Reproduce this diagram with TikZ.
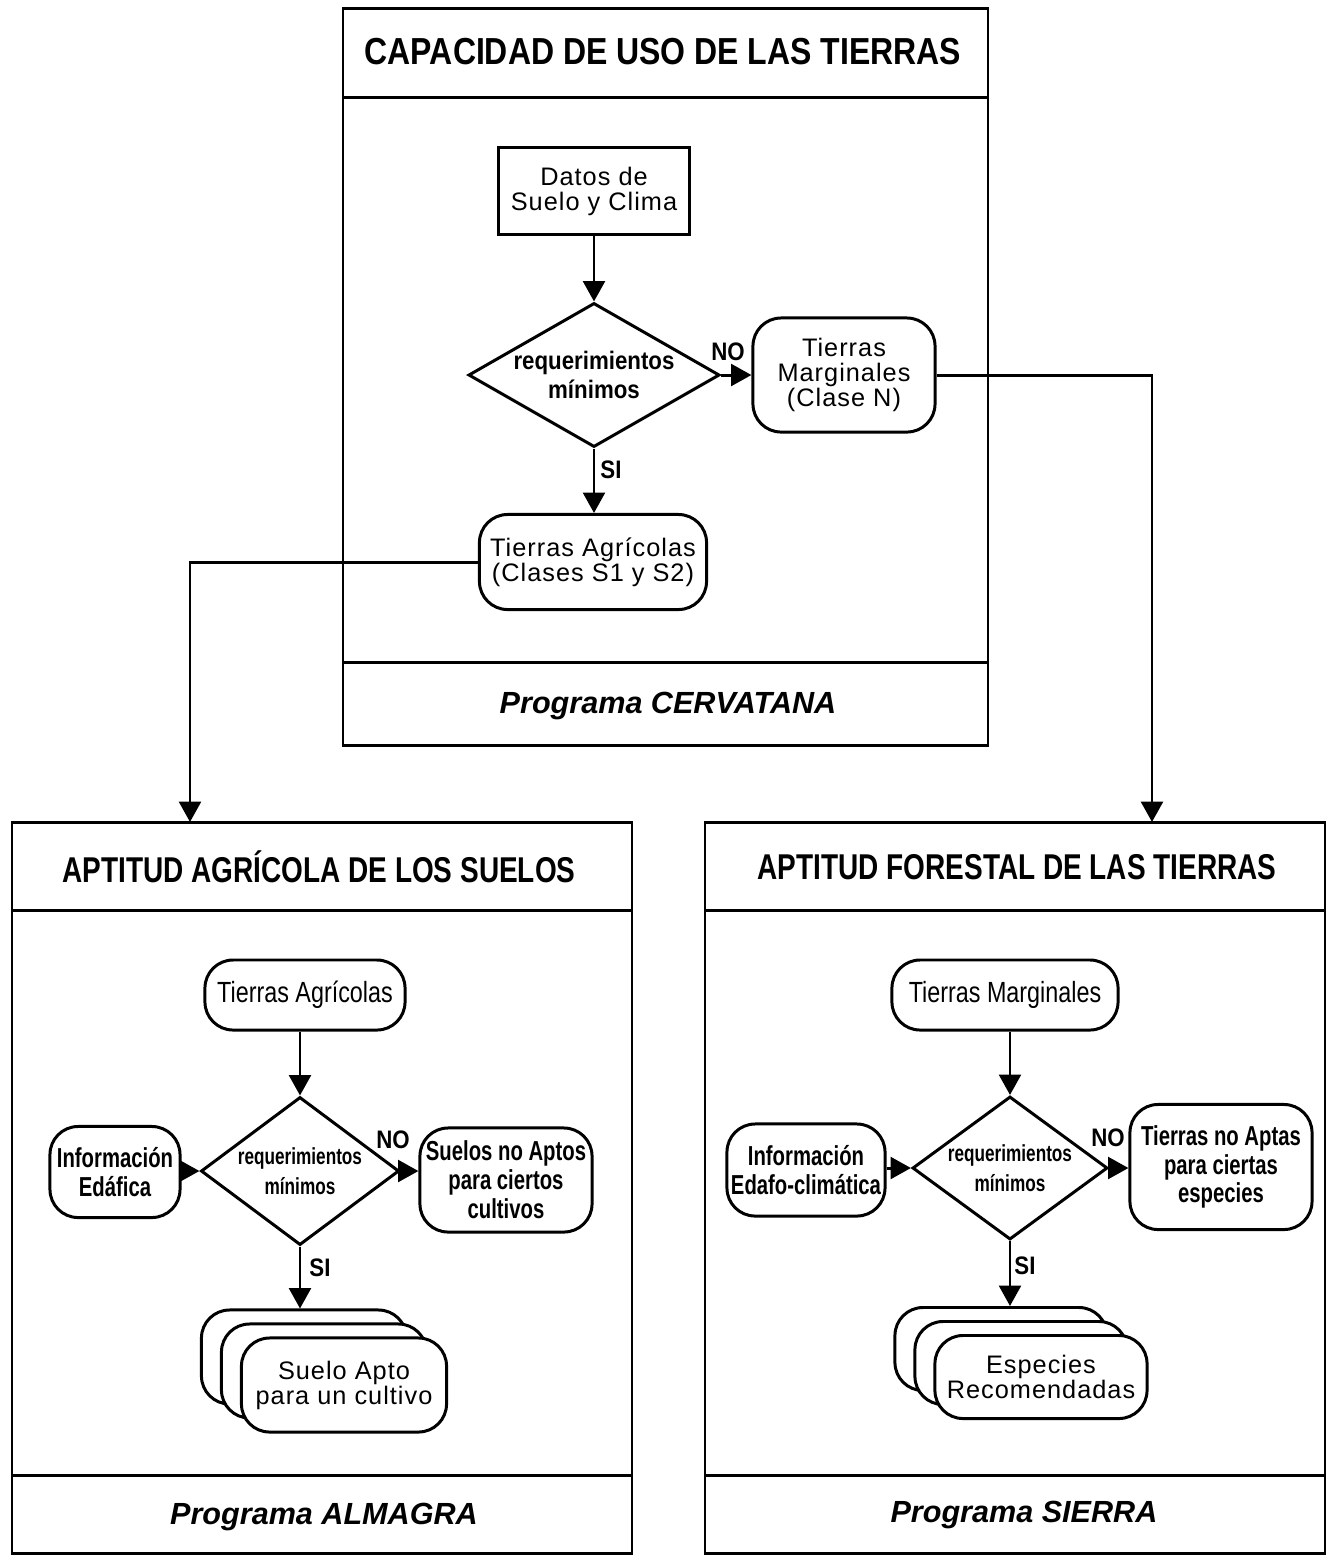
\documentclass[tikz,border=0pt]{standalone}
\usepackage{fontspec}
\setmainfont{Liberation Sans}
\newfontfamily\spacedfont[LetterSpace=4]{Liberation Sans}
\newfontfamily\titlefont[FakeStretch=0.85]{Liberation Sans}
\newfontfamily\subtitlefont[FakeStretch=0.78]{Liberation Sans}
\newfontfamily\condfont[FakeStretch=0.88]{Liberation Sans}
\newfontfamily\lowfont[FakeStretch=0.8]{Liberation Sans}
\newfontfamily\narrowfont[FakeStretch=0.74]{Liberation Sans}
\usetikzlibrary{arrows.meta,shapes.geometric}

\begin{document}
\begin{tikzpicture}[x=0.01cm, y=-0.01cm, line width=0.85pt,
	flow/.style={-{Triangle[length=5.8pt,width=6.2pt]}},
	softbox/.style={draw, fill=white, rounded corners=8pt, align=center, inner sep=0pt},
	hardbox/.style={draw, align=center, inner sep=0pt},
	decision/.style={draw, diamond, inner sep=0pt},
	heading/.style={font=\titlefont\bfseries\fontsize{10.7}{12}\selectfont},
	subheading/.style={font=\subtitlefont\bfseries\fontsize{10.2}{12}\selectfont},
	footing/.style={font=\bfseries\itshape\fontsize{8.7}{10}\selectfont},
	plain/.style={font=\spacedfont\fontsize{7.2}{7.1}\selectfont},
	low plain/.style={font=\lowfont\fontsize{8.3}{9}\selectfont},
	cond/.style={align=center, font=\condfont\bfseries\fontsize{7.2}{8.4}\selectfont},
	narrow/.style={font=\narrowfont\bfseries\fontsize{7.8}{8.2}\selectfont},
	small narrow/.style={align=center, font=\narrowfont\bfseries\fontsize{6.6}{8.4}\selectfont}]
	\useasboundingbox (0,0) rectangle (1337,1556);

	% capacidad de uso
	\draw (343,8) rectangle (988,745);
	\draw (343,97) -- (988,97);
	\draw (343,662) -- (988,662);
	\node[heading] (capTitle) at (663,52) {CAPACIDAD DE USO DE LAS TIERRAS};
	\node[footing] (capFoot) at (668,706) {Programa CERVATANA};

	\node[hardbox, plain, minimum width=1.91cm, minimum height=0.87cm] (datos) at (594,191) {Datos de\\Suelo y Clima};
	\node[decision, minimum width=2.51cm, minimum height=1.44cm] (req) at (594,375) {};
	\node[cond] (reqText) at (req) {requerimientos\\mínimos};
	\node[softbox, plain, minimum width=1.82cm, minimum height=1.14cm] (marg) at (844,375) {Tierras\\Marginales\\(Clase N)};
	\node[softbox, plain, minimum width=2.27cm, minimum height=0.95cm] (agric) at (593,562) {Tierras Agrícolas\\(Clases S1 y S2)};
	\draw[flow] (datos) -- (req);
	\draw[flow] (req) -- (marg);
	\draw[flow] (req.south) -- (req.south |- agric.north);
	\node[cond] (noTop) at (728,352) {NO};
	\node[cond] (siTop) at (611,470) {SI};

	\coordinate (almagraIn) at (190,822);
	\coordinate (sierraIn) at (1152,822);
	\draw[flow] (agric.west) -| (almagraIn);
	\draw[flow] (marg.east) -| (sierraIn);

	% aptitud agricola
	\draw (12,822) rectangle (632,1553);
	\draw (12,910) -- (632,910);
	\draw (12,1475) -- (632,1475);
	\node[subheading] (agrTitle) at (319,867) {APTITUD AGRÍCOLA DE LOS SUELOS};
	\node[footing] (agrFoot) at (324,1517) {Programa ALMAGRA};

	\node[softbox, low plain, minimum width=2cm, minimum height=0.7cm] (agricB) at (305,995) {Tierras Agrícolas};
	\node[decision, minimum width=1.98cm, minimum height=1.48cm] (reqB) at (300,1171) {};
	\node[small narrow] (reqBText) at (reqB) {requerimientos\\mínimos};
	\node[softbox, narrow, minimum width=1.3cm, minimum height=0.91cm] (edaf) at (115,1172) {Información\\Edáfica};
	\node[softbox, narrow, minimum width=1.72cm, minimum height=1.04cm] (noapt) at (506,1180) {Suelos no Aptos\\para ciertos\\cultivos};
	\node[softbox, minimum width=2.05cm, minimum height=0.94cm] (aptoBack) at (304,1357) {};
	\node[softbox, minimum width=2.05cm, minimum height=0.94cm] (aptoMid) at (324,1371) {};
	\node[softbox, plain, minimum width=2.05cm, minimum height=0.94cm] (apto) at (344,1385) {Suelo Apto\\para un cultivo};
	\draw[flow] (agricB.south -| reqB.north) -- (reqB.north);
	\draw[flow] (edaf.east |- reqB) -- (reqB.west);
	\draw[flow] (reqB.east) -- (reqB.east -| noapt.west);
	\draw[flow] (reqB.south) -- (reqB.south |- aptoBack.north);
	\node[cond] (noLeft) at (393,1140) {NO};
	\node[cond] (siLeft) at (320,1268) {SI};

	% aptitud forestal
	\draw (705,822) rectangle (1325,1553);
	\draw (705,910) -- (1325,910);
	\draw (705,1475) -- (1325,1475);
	\node[subheading] (forTitle) at (1017,867) {APTITUD FORESTAL DE LAS TIERRAS};
	\node[footing] (forFoot) at (1024,1515) {Programa SIERRA};

	\node[softbox, low plain, minimum width=2.26cm, minimum height=0.7cm] (margB) at (1005,995) {Tierras Marginales};
	\node[decision, minimum width=1.95cm, minimum height=1.43cm] (reqC) at (1010,1168) {};
	\node[small narrow] (reqCText) at (reqC) {requerimientos\\mínimos};
	\node[softbox, narrow, minimum width=1.58cm, minimum height=0.92cm] (edafc) at (806,1170) {Información\\Edafo-climática};
	\node[softbox, narrow, minimum width=1.82cm, minimum height=1.25cm] (notierra) at (1221,1167) {Tierras no Aptas\\para ciertas\\especies};
	\node[softbox, minimum width=2.12cm, minimum height=0.83cm] (espBack) at (1001,1349) {};
	\node[softbox, minimum width=2.12cm, minimum height=0.83cm] (espMid) at (1021,1363) {};
	\node[softbox, plain, minimum width=2.12cm, minimum height=0.83cm] (esp) at (1041,1377) {Especies\\Recomendadas};
	\draw[flow] (margB.south -| reqC.north) -- (reqC.north);
	\draw[flow] (edafc.east |- reqC) -- (reqC.west);
	\draw[flow] (reqC.east) -- (reqC.east -| notierra.west);
	\draw[flow] (reqC.south) -- (reqC.south |- espBack.north);
	\node[cond] (noRight) at (1108,1138) {NO};
	\node[cond] (siRight) at (1025,1266) {SI};
\end{tikzpicture}
\end{document}
